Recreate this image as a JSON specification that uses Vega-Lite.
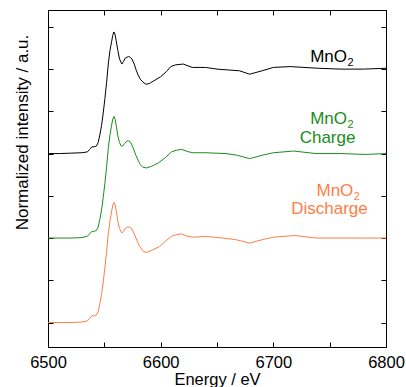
{
  "$schema": "https://vega.github.io/schema/vega-lite/v6.json",
  "width": 338,
  "height": 337,
  "autosize": {"type": "none"},
  "padding": {"left": 48, "top": 10, "right": 20, "bottom": 40},
  "background": "white",
  "datasets": {
    "curves": [
      {"e":6500,"v":2.0,"s":"MnO2"},{"e":6510,"v":2.0,"s":"MnO2"},{"e":6520,"v":2.005,"s":"MnO2"},{"e":6530,"v":2.01,"s":"MnO2"},{"e":6535,"v":2.02,"s":"MnO2"},{"e":6537,"v":2.05,"s":"MnO2"},{"e":6539,"v":2.08,"s":"MnO2"},{"e":6541,"v":2.08,"s":"MnO2"},{"e":6543,"v":2.09,"s":"MnO2"},{"e":6544.5,"v":2.13,"s":"MnO2"},{"e":6546,"v":2.22,"s":"MnO2"},{"e":6547.5,"v":2.33,"s":"MnO2"},{"e":6549,"v":2.48,"s":"MnO2"},{"e":6550.5,"v":2.65,"s":"MnO2"},{"e":6552,"v":2.84,"s":"MnO2"},{"e":6553.5,"v":3.06,"s":"MnO2"},{"e":6555,"v":3.22,"s":"MnO2"},{"e":6556.5,"v":3.33,"s":"MnO2"},{"e":6557.5,"v":3.40,"s":"MnO2"},{"e":6558.5,"v":3.44,"s":"MnO2"},{"e":6559.5,"v":3.41,"s":"MnO2"},{"e":6560.5,"v":3.34,"s":"MnO2"},{"e":6562,"v":3.22,"s":"MnO2"},{"e":6563.5,"v":3.12,"s":"MnO2"},{"e":6565.5,"v":3.06,"s":"MnO2"},{"e":6567,"v":3.09,"s":"MnO2"},{"e":6568.5,"v":3.13,"s":"MnO2"},{"e":6570,"v":3.14,"s":"MnO2"},{"e":6571.5,"v":3.15,"s":"MnO2"},{"e":6573,"v":3.14,"s":"MnO2"},{"e":6574.5,"v":3.12,"s":"MnO2"},{"e":6576.5,"v":3.06,"s":"MnO2"},{"e":6578.5,"v":2.98,"s":"MnO2"},{"e":6580,"v":2.93,"s":"MnO2"},{"e":6582,"v":2.88,"s":"MnO2"},{"e":6584,"v":2.85,"s":"MnO2"},{"e":6587,"v":2.82,"s":"MnO2"},{"e":6590,"v":2.83,"s":"MnO2"},{"e":6595,"v":2.87,"s":"MnO2"},{"e":6600,"v":2.91,"s":"MnO2"},{"e":6605,"v":2.97,"s":"MnO2"},{"e":6609,"v":3.03,"s":"MnO2"},{"e":6613,"v":3.05,"s":"MnO2"},{"e":6620,"v":3.06,"s":"MnO2"},{"e":6628,"v":3.02,"s":"MnO2"},{"e":6640,"v":3.02,"s":"MnO2"},{"e":6650,"v":3.00,"s":"MnO2"},{"e":6660,"v":2.99,"s":"MnO2"},{"e":6670,"v":2.98,"s":"MnO2"},{"e":6679,"v":2.94,"s":"MnO2"},{"e":6690,"v":2.98,"s":"MnO2"},{"e":6700,"v":3.02,"s":"MnO2"},{"e":6715,"v":3.03,"s":"MnO2"},{"e":6740,"v":3.01,"s":"MnO2"},{"e":6760,"v":3.0,"s":"MnO2"},{"e":6780,"v":3.0,"s":"MnO2"},{"e":6800,"v":3.01,"s":"MnO2"},

      {"e":6500,"v":1.0,"s":"Charge"},{"e":6510,"v":1.0,"s":"Charge"},{"e":6520,"v":1.0,"s":"Charge"},{"e":6530,"v":1.005,"s":"Charge"},{"e":6535,"v":1.02,"s":"Charge"},{"e":6537,"v":1.05,"s":"Charge"},{"e":6539,"v":1.08,"s":"Charge"},{"e":6541,"v":1.08,"s":"Charge"},{"e":6543,"v":1.09,"s":"Charge"},{"e":6544.5,"v":1.13,"s":"Charge"},{"e":6546,"v":1.22,"s":"Charge"},{"e":6547.5,"v":1.33,"s":"Charge"},{"e":6549,"v":1.48,"s":"Charge"},{"e":6550.5,"v":1.65,"s":"Charge"},{"e":6552,"v":1.84,"s":"Charge"},{"e":6553.5,"v":2.06,"s":"Charge"},{"e":6555,"v":2.22,"s":"Charge"},{"e":6556.5,"v":2.34,"s":"Charge"},{"e":6557.5,"v":2.41,"s":"Charge"},{"e":6558.7,"v":2.44,"s":"Charge"},{"e":6559.7,"v":2.40,"s":"Charge"},{"e":6560.7,"v":2.32,"s":"Charge"},{"e":6562,"v":2.21,"s":"Charge"},{"e":6563.5,"v":2.13,"s":"Charge"},{"e":6565,"v":2.09,"s":"Charge"},{"e":6566.3,"v":2.09,"s":"Charge"},{"e":6568,"v":2.12,"s":"Charge"},{"e":6570,"v":2.15,"s":"Charge"},{"e":6571.8,"v":2.15,"s":"Charge"},{"e":6573.5,"v":2.13,"s":"Charge"},{"e":6575.5,"v":2.07,"s":"Charge"},{"e":6578,"v":1.98,"s":"Charge"},{"e":6580,"v":1.92,"s":"Charge"},{"e":6582,"v":1.87,"s":"Charge"},{"e":6584,"v":1.84,"s":"Charge"},{"e":6587.4,"v":1.83,"s":"Charge"},{"e":6592,"v":1.85,"s":"Charge"},{"e":6598,"v":1.89,"s":"Charge"},{"e":6604,"v":1.95,"s":"Charge"},{"e":6609.6,"v":2.02,"s":"Charge"},{"e":6614,"v":2.04,"s":"Charge"},{"e":6618.5,"v":2.05,"s":"Charge"},{"e":6625,"v":2.02,"s":"Charge"},{"e":6629,"v":2.01,"s":"Charge"},{"e":6640,"v":2.01,"s":"Charge"},{"e":6658,"v":2.0,"s":"Charge"},{"e":6668,"v":1.98,"s":"Charge"},{"e":6679,"v":1.94,"s":"Charge"},{"e":6690,"v":1.98,"s":"Charge"},{"e":6700,"v":2.01,"s":"Charge"},{"e":6718,"v":2.03,"s":"Charge"},{"e":6738,"v":2.0,"s":"Charge"},{"e":6760,"v":2.0,"s":"Charge"},{"e":6782,"v":1.99,"s":"Charge"},{"e":6800,"v":2.0,"s":"Charge"},

      {"e":6500,"v":0.0,"s":"Discharge"},{"e":6510,"v":0.0,"s":"Discharge"},{"e":6520,"v":0.0,"s":"Discharge"},{"e":6530,"v":0.005,"s":"Discharge"},{"e":6535,"v":0.02,"s":"Discharge"},{"e":6537,"v":0.05,"s":"Discharge"},{"e":6539,"v":0.08,"s":"Discharge"},{"e":6541,"v":0.08,"s":"Discharge"},{"e":6543,"v":0.09,"s":"Discharge"},{"e":6544.5,"v":0.13,"s":"Discharge"},{"e":6546,"v":0.22,"s":"Discharge"},{"e":6547.5,"v":0.33,"s":"Discharge"},{"e":6549,"v":0.48,"s":"Discharge"},{"e":6550.5,"v":0.65,"s":"Discharge"},{"e":6552,"v":0.84,"s":"Discharge"},{"e":6553.5,"v":1.05,"s":"Discharge"},{"e":6555,"v":1.20,"s":"Discharge"},{"e":6556.5,"v":1.32,"s":"Discharge"},{"e":6557.5,"v":1.39,"s":"Discharge"},{"e":6558.7,"v":1.42,"s":"Discharge"},{"e":6559.7,"v":1.39,"s":"Discharge"},{"e":6560.7,"v":1.31,"s":"Discharge"},{"e":6562,"v":1.20,"s":"Discharge"},{"e":6563.5,"v":1.11,"s":"Discharge"},{"e":6565.5,"v":1.06,"s":"Discharge"},{"e":6567,"v":1.08,"s":"Discharge"},{"e":6569,"v":1.12,"s":"Discharge"},{"e":6570.5,"v":1.13,"s":"Discharge"},{"e":6572.5,"v":1.13,"s":"Discharge"},{"e":6574.5,"v":1.11,"s":"Discharge"},{"e":6576.5,"v":1.05,"s":"Discharge"},{"e":6579,"v":0.97,"s":"Discharge"},{"e":6581,"v":0.91,"s":"Discharge"},{"e":6583,"v":0.87,"s":"Discharge"},{"e":6585,"v":0.84,"s":"Discharge"},{"e":6587.4,"v":0.83,"s":"Discharge"},{"e":6593,"v":0.86,"s":"Discharge"},{"e":6599,"v":0.90,"s":"Discharge"},{"e":6604,"v":0.96,"s":"Discharge"},{"e":6609.6,"v":1.02,"s":"Discharge"},{"e":6614,"v":1.04,"s":"Discharge"},{"e":6618.5,"v":1.05,"s":"Discharge"},{"e":6624,"v":1.02,"s":"Discharge"},{"e":6629,"v":1.01,"s":"Discharge"},{"e":6640,"v":1.02,"s":"Discharge"},{"e":6655,"v":1.0,"s":"Discharge"},{"e":6667,"v":0.98,"s":"Discharge"},{"e":6679,"v":0.94,"s":"Discharge"},{"e":6690,"v":0.98,"s":"Discharge"},{"e":6700,"v":1.01,"s":"Discharge"},{"e":6719,"v":1.03,"s":"Discharge"},{"e":6738,"v":1.0,"s":"Discharge"},{"e":6760,"v":1.0,"s":"Discharge"},{"e":6780,"v":1.0,"s":"Discharge"},{"e":6800,"v":1.0,"s":"Discharge"}
    ],
    "formula": [
      {"e":6765.4,"v":3.08,"s":"MnO2"},
      {"e":6765.4,"v":2.345,"s":"Charge"},
      {"e":6771,"v":1.5,"s":"Discharge"}
    ],
    "names": [
      {"e":6748.1,"v":2.127,"s":"Charge","t":"Charge"},
      {"e":6749.8,"v":1.282,"s":"Discharge","t":"Discharge"}
    ]
  },
  "resolve": {"axis": {"x": "independent", "y": "independent"}},
  "layer": [
    {
      "data": {"name": "curves"},
      "mark": {"type": "line", "strokeWidth": 1, "interpolate": "linear"},
      "encoding": {
        "x": {"field": "e", "type": "quantitative", "scale": {"domain": [6500, 6800], "nice": false},
              "axis": {"orient": "bottom", "title": "Energy / eV", "values": [6500,6550,6600,6650,6700,6750,6800],
                       "labelExpr": "datum.value % 100 === 0 ? datum.label : ''", "format": "d",
                       "labelFlush": false, "labelBound": false, "labelOverlap": false,
                       "labelPadding": 12, "titlePadding": 1}},
        "y": {"field": "v", "type": "quantitative", "scale": {"domain": [-0.29, 3.7], "nice": false, "zero": false},
              "axis": {"orient": "left", "title": "Normalized intensity / a.u.", "values": [0,0.5,1,1.5,2,2.5,3,3.5],
                       "labels": false, "titleFontSize": 17, "titleX": -26, "titleY": 122, "titleBaseline": "middle", "titleAlign": "center", "titleAngle": -90}},
        "color": {"field": "s", "type": "nominal", "legend": null,
                  "scale": {"domain": ["MnO2", "Charge", "Discharge"], "range": ["#000000", "#1b8c1b", "#ff7d48"]}},
        "detail": {"field": "s"}
      }
    },
    {
      "data": {"name": "formula"},
      "mark": {"type": "text", "text": "MnO", "align": "right", "baseline": "alphabetic", "fontSize": 17, "font": "Liberation Sans"},
      "encoding": {
        "x": {"field": "e", "type": "quantitative",
              "axis": {"orient": "top", "title": null, "labels": false, "values": [6500,6550,6600,6650,6700,6750,6800]}},
        "y": {"field": "v", "type": "quantitative",
              "axis": {"orient": "right", "title": null, "labels": false, "values": [0,0.5,1,1.5,2,2.5,3,3.5]}},
        "color": {"field": "s", "type": "nominal", "legend": null}
      }
    },
    {
      "data": {"name": "formula"},
      "mark": {"type": "text", "text": "2", "align": "left", "baseline": "alphabetic", "fontSize": 11, "dx": 0.5, "dy": 4, "font": "Liberation Sans"},
      "encoding": {
        "x": {"field": "e", "type": "quantitative", "axis": null},
        "y": {"field": "v", "type": "quantitative", "axis": null},
        "color": {"field": "s", "type": "nominal", "legend": null}
      }
    },
    {
      "data": {"name": "names"},
      "mark": {"type": "text", "align": "center", "baseline": "alphabetic", "fontSize": 17, "font": "Liberation Sans"},
      "encoding": {
        "x": {"field": "e", "type": "quantitative", "axis": null},
        "y": {"field": "v", "type": "quantitative", "axis": null},
        "text": {"field": "t"},
        "color": {"field": "s", "type": "nominal", "legend": null}
      }
    }
  ],
  "config": {
    "font": "Liberation Sans",
    "view": {"stroke": "black", "strokeWidth": 1},
    "axis": {
      "grid": false,
      "domainColor": "black",
      "tickColor": "black",
      "labelColor": "black",
      "titleColor": "black",
      "labelFont": "Liberation Sans",
      "titleFont": "Liberation Sans",
      "labelFontSize": 16.5,
      "titleFontSize": 16.5,
      "titleFontWeight": "normal",
      "tickSize": -5,
      "labelPadding": 8
    }
  }
}
